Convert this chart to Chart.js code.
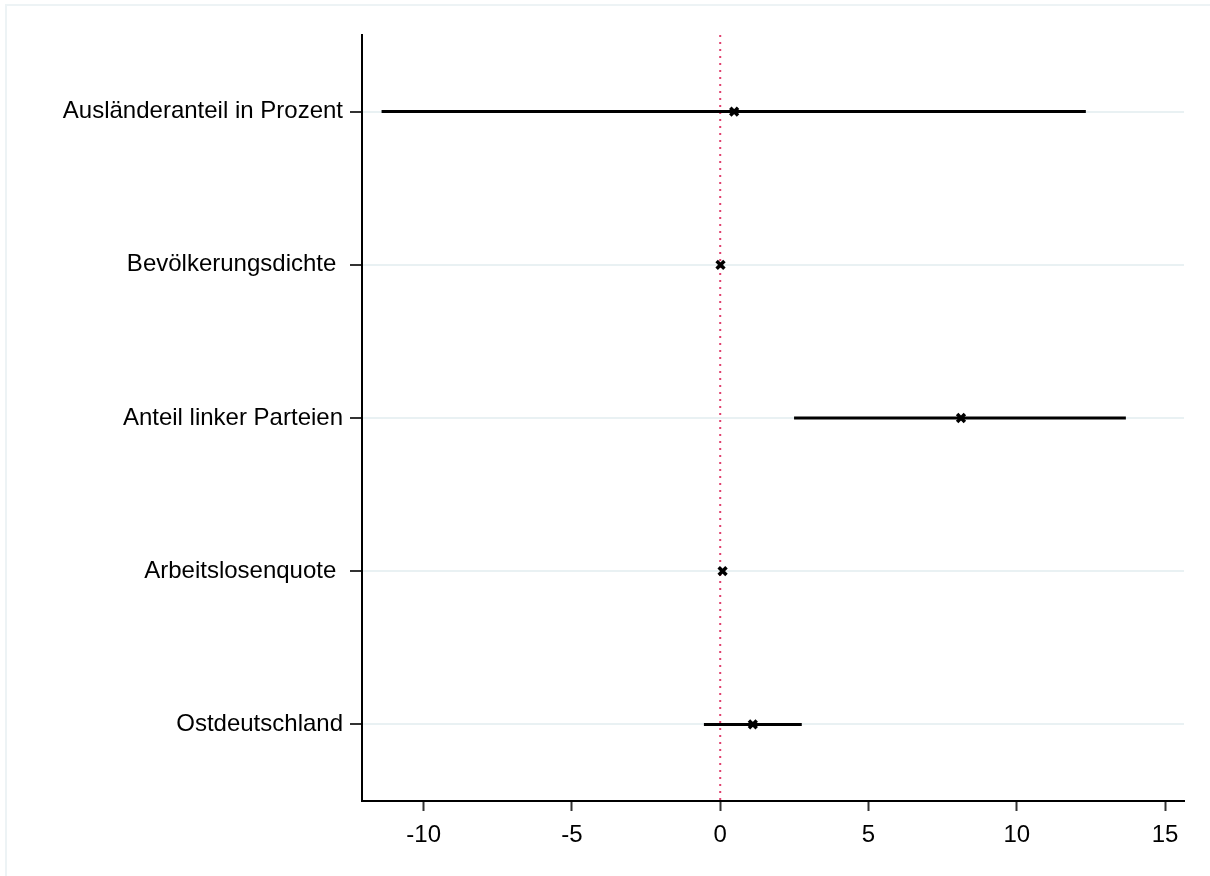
<!DOCTYPE html>
<html>
<head>
<meta charset="utf-8">
<script src="https://cdn.jsdelivr.net/npm/chart.js@4"></script>
<style>
  html, body { margin: 0; padding: 0; background: #fff; overflow: hidden; }
  #wrap { position: relative; width: 1210px; height: 876px; overflow: hidden; }
  #frame { position: absolute; left: 5px; top: 4px; width: 1220px; height: 890px; border-top: 2px solid #edf3f5; border-left: 2px solid #edf3f5; }
  canvas { position: absolute; left: 0; top: 0; }
</style>
</head>
<body>
<div id="wrap">
  <div id="frame"></div>
  <canvas id="myChart" width="1210" height="876"></canvas>
</div>
<script>
// coefficient plot data
const labels = [
  "Ausländeranteil in Prozent",
  "Bevölkerungsdichte ",
  "Anteil linker Parteien",
  "Arbeitslosenquote ",
  "Ostdeutschland",
];
const estimates = [0.47, 0.01, 8.12, 0.08, 1.10];
const lower = [-11.42, -0.05, 2.49, 0.02, -0.55];
const upper = [12.33, 0.07, 13.68, 0.14, 2.75];
const xTicks = [-10, -5, 0, 5, 10, 15];

const ciSets = labels.map((lab, i) => ({
  type: "line",
  data: [{ x: lower[i], y: i + 1 }, { x: upper[i], y: i + 1 }],
  borderColor: "#000",
  borderWidth: 3,
  pointRadius: 0,
  order: 2,
}));

const ctx = document.getElementById("myChart").getContext("2d");
new Chart(ctx, {
  type: "scatter",
  data: {
    datasets: [
      {
        type: "line",
        data: [{ x: 0, y: 0.5 }, { x: 0, y: 5.5 }],
        borderColor: "#e0406e",
        borderWidth: 2,
        borderDash: [2, 5],
        pointRadius: 0,
        order: 3,
      },
      ...ciSets,
      {
        data: estimates.map((v, i) => ({ x: v, y: i + 1 })),
        pointStyle: "crossRot",
        pointRadius: 5.5,
        pointBorderWidth: 3.5,
        borderColor: "#000",
        backgroundColor: "#000",
        order: 1,
      },
    ],
  },
  options: {
    responsive: false,
    animation: false,
    layout: { padding: { top: 35, right: 26, left: 0, bottom: 0 } },
    plugins: { legend: { display: false }, tooltip: { enabled: false } },
    scales: {
      x: {
        type: "linear",
        min: -12.08,
        max: 15.64,
        afterBuildTicks: (s) => { s.ticks = xTicks.map((v) => ({ value: v })); },
        afterFit: (s) => { s.height = 75; },
        grid: { drawOnChartArea: false, tickColor: "#333", tickLength: 10, tickWidth: 2 },
        border: { color: "#000", width: 2 },
        ticks: {
          color: "#000",
          padding: 10,
          font: { family: "'Liberation Sans', Arial", size: 24 },
        },
      },
      y: {
        type: "linear",
        reverse: true,
        min: 0.5,
        max: 5.5,
        afterBuildTicks: (s) => { s.ticks = labels.map((l, i) => ({ value: i + 1 })); },
        afterFit: (s) => { s.width = 362; },
        grid: { color: "#e9f1f3", lineWidth: 2, tickColor: "#333", tickLength: 12, tickWidth: 2 },
        border: { color: "#000", width: 2 },
        ticks: {
          color: "#000",
          padding: 7,
          font: { family: "'Liberation Sans', Arial", size: 24 },
          callback: (v) => labels[v - 1],
        },
      },
    },
  },
});
</script>
</body>
</html>
